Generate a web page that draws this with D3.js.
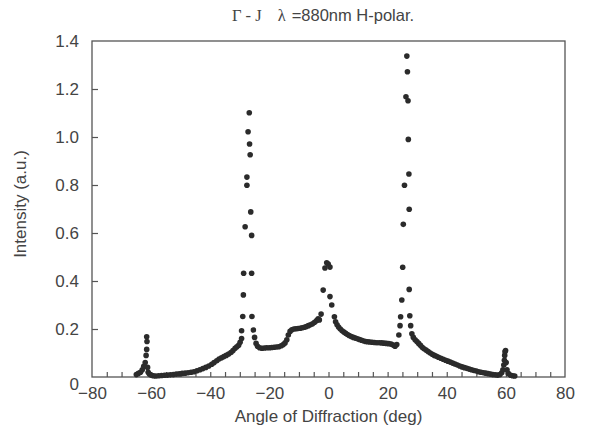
<!DOCTYPE html>
<html>
<head>
<meta charset="utf-8">
<script src="https://cdn.jsdelivr.net/npm/d3@7"></script>
<style>
	body { margin: 0; background: #fff; }
	text { font-family: "Liberation Sans", Arial, sans-serif; fill: #444; }
</style>
</head>
<body>
<script>
//////////////////////////////////////////////
// Data //////////////////////////////////////
//////////////////////////////////////////////
// angle of diffraction (deg)
var angles = [
	-65.0, -64.3, -63.6, -63.0, -62.5, -62.0, -61.7, -61.5, -61.4, -61.5, -61.2, -61.0, -60.6,
	-60.0, -59.3, -58.5, -57.5, -56.5, -55.5, -54.5, -53.5, -52.5, -51.5, -50.5, -49.5, -48.5,
	-47.5, -46.5, -45.5, -44.5, -43.5, -42.5, -41.5, -40.5, -39.5, -38.7, -37.8, -37.0, -36.2,
	-35.4, -34.6, -33.8, -33.0, -32.3, -31.6, -31.0, -30.4, -29.9, -29.4, -29.4, -29.0, -28.8,
	-28.7, -28.2, -27.6, -27.6, -27.2, -26.8, -26.7, -26.5, -26.3, -26.0, -26.0, -25.9, -25.4,
	-25.0, -24.5, -24.0, -23.3, -22.5, -21.7, -20.9, -20.0, -19.2, -18.4, -17.6, -16.8, -16.0,
	-15.3, -14.7, -14.1, -13.6, -13.0, -12.4, -11.7, -11.0, -10.3, -9.6, -8.9, -8.2, -7.5,
	-6.8, -6.1, -5.4, -4.7, -4.0, -3.5, -3.1, -2.5, -1.8, -1.2, -0.6, -0.1, 0.5,
	0.5, 1.1, 2.0, 2.4, 2.9, 3.4, 4.0, 4.6, 5.2, 5.8, 6.4, 7.0, 7.7,
	8.4, 9.1, 9.8, 10.5, 11.2, 11.9, 12.6, 13.3, 14.0, 14.8, 15.6, 16.4, 17.2,
	18.0, 18.8, 19.6, 20.4, 21.2, 21.9, 22.5, 23.1, 23.8, 24.2, 24.4, 24.8, 25.1,
	25.3, 25.7, 26.2, 26.5, 26.7, 26.9, 27.0, 27.2, 27.3, 27.3, 27.5, 27.8, 28.2,
	28.7, 29.3, 29.9, 30.5, 31.1, 31.7, 32.3, 33.0, 33.7, 34.4, 35.1, 35.8, 36.5,
	37.2, 38.0, 38.8, 39.6, 40.4, 41.2, 42.0, 42.8, 43.6, 44.4, 45.2, 46.0, 46.8,
	47.6, 48.4, 49.2, 50.0, 50.8, 51.6, 52.4, 53.2, 54.0, 54.8, 55.6, 56.4, 57.2,
	58.0, 58.6, 59.0, 59.3, 59.5, 59.6, 59.7, 59.9, 60.1, 60.4, 60.8, 61.5, 62.3,
	63.0
];

// intensity (a.u.)
var intensity = [
	0.010, 0.015, 0.020, 0.030, 0.045, 0.060, 0.090, 0.115, 0.148, 0.168, 0.040, 0.020, 0.012,
	0.008, 0.005, 0.004, 0.005, 0.006, 0.007, 0.008, 0.009, 0.010, 0.012, 0.013, 0.015, 0.016,
	0.018, 0.020, 0.022, 0.026, 0.030, 0.035, 0.040, 0.046, 0.053, 0.060, 0.068, 0.075, 0.080,
	0.085, 0.090, 0.096, 0.102, 0.110, 0.120, 0.126, 0.132, 0.145, 0.160, 0.193, 0.252, 0.342,
	0.432, 0.626, 0.799, 0.833, 1.022, 1.101, 0.971, 0.926, 0.688, 0.590, 0.432, 0.252, 0.196,
	0.165, 0.140, 0.128, 0.122, 0.120, 0.121, 0.122, 0.122, 0.123, 0.124, 0.125, 0.126, 0.130,
	0.135, 0.142, 0.155, 0.175, 0.190, 0.197, 0.200, 0.201, 0.202, 0.203, 0.205, 0.207, 0.210,
	0.214, 0.218, 0.222, 0.228, 0.235, 0.242, 0.238, 0.262, 0.362, 0.454, 0.476, 0.471, 0.458,
	0.335, 0.300, 0.251, 0.230, 0.218, 0.208, 0.200, 0.193, 0.187, 0.182, 0.177, 0.173, 0.169,
	0.165, 0.162, 0.159, 0.156, 0.153, 0.150, 0.148, 0.147, 0.146, 0.145, 0.144, 0.143, 0.143,
	0.142, 0.141, 0.140, 0.139, 0.137, 0.133, 0.128, 0.135, 0.175, 0.214, 0.251, 0.321, 0.457,
	0.636, 0.799, 1.168, 1.337, 1.272, 1.151, 0.990, 0.846, 0.699, 0.365, 0.255, 0.214, 0.180,
	0.165, 0.155, 0.148, 0.140, 0.132, 0.124, 0.118, 0.112, 0.106, 0.100, 0.095, 0.090, 0.086,
	0.082, 0.078, 0.074, 0.070, 0.066, 0.062, 0.058, 0.054, 0.050, 0.046, 0.042, 0.039, 0.036,
	0.033, 0.030, 0.027, 0.025, 0.022, 0.020, 0.018, 0.016, 0.014, 0.012, 0.010, 0.009, 0.008,
	0.010, 0.018, 0.030, 0.050, 0.070, 0.090, 0.105, 0.110, 0.060, 0.030, 0.015, 0.008, 0.005,
	0.004
];

// tick labels
var xTicks = [-80, -60, -40, -20, 0, 20, 40, 60, 80];
var yTicks = [0, 0.2, 0.4, 0.6, 0.8, 1.0, 1.2, 1.4];

var data = angles.map(function(a, i) { return {angle: a, value: intensity[i]}; });

//////////////////////////////////////////////
// Chart Config /////////////////////////////
//////////////////////////////////////////////
var margin = {top: 41, right: 24, bottom: 57, left: 92},
	width = 589 - margin.left - margin.right,
	height = 434 - margin.top - margin.bottom;

var xScale = d3.scaleLinear().domain([-80, 80]).range([0, width]);
var yScale = d3.scaleLinear().domain([0, 1.4]).range([height, 0]);

var svg = d3.select("body")
			.append("svg")
			.attr("width", 589)
			.attr("height", 434);

var artboard = svg.append("g")
				  .attr("transform", "translate(" + margin.left + "," + margin.top + ")");

//////////////////////////////////////////////
// Axes //////////////////////////////////////
//////////////////////////////////////////////
// frame round the plot
artboard.append("rect")
		.attr("width", width)
		.attr("height", height)
		.style("fill", "none")
		.style("stroke", "#555")
		.style("stroke-width", 1.3);

// ticks point inwards, minor every 5 deg
var xAxis = d3.axisBottom(xScale)
			  .tickValues(d3.range(-75, 80, 5))
			  .tickSizeInner(-5)
			  .tickSizeOuter(0)
			  .tickFormat("");
var xAxisEl = artboard.append("g")
					  .attr("transform", "translate(0," + height + ")")
					  .call(xAxis);

var xLabels = d3.axisBottom(xScale)
				.tickValues(xTicks)
				.tickSize(0)
				.tickPadding(10)
				.tickFormat(d3.format("d"));
var xLabelEl = artboard.append("g")
					   .attr("transform", "translate(0," + height + ")")
					   .call(xLabels);

var yAxis = d3.axisLeft(yScale)
			  .tickValues(yTicks.slice(1, -1))
			  .tickSizeInner(-6)
			  .tickSizeOuter(0)
			  .tickFormat("");
var yAxisEl = artboard.append("g").call(yAxis);

var yLabels = d3.axisLeft(yScale)
				.tickValues(yTicks)
				.tickSize(0)
				.tickPadding(13)
				.tickFormat(function(d) { return d === 0 ? "0" : d3.format(".1f")(d); });
var yLabelEl = artboard.append("g").call(yLabels);

[xAxisEl, yAxisEl, xLabelEl, yLabelEl].forEach(function(g) {
	g.select(".domain").remove();
	g.selectAll("line").style("stroke", "#555").style("stroke-width", 1.2);
	g.selectAll("text")
	 .style("font-size", "17px")
	 .style("font-family", "'Liberation Sans', Arial, sans-serif")
	 .style("fill", "#444");
});

// the "0" sits a bit under the axis in the original
yLabelEl.selectAll(".tick").filter(function(d) { return d === 0; })
		.select("text").attr("dy", "0.75em");

//////////////////////////////////////////////
// Points ////////////////////////////////////
//////////////////////////////////////////////
artboard.selectAll(".pt")
		.data(data)
		.enter()
		.append("circle")
		.attr("class", "pt")
		.attr("cx", function(d) { return xScale(d.angle); })
		.attr("cy", function(d) { return yScale(d.value); })
		.attr("r", 2.8)
		.style("fill", "#2b2b2b");

//////////////////////////////////////////////
// Titles ////////////////////////////////////
//////////////////////////////////////////////
svg.append("text")
   .attr("x", margin.left + width / 2)
   .attr("y", 422)
   .attr("text-anchor", "middle")
   .style("font-size", "17px")
   .text("Angle of Diffraction (deg)");

svg.append("text")
   .attr("transform", "translate(26," + (margin.top + height / 2 - 5) + ") rotate(-90)")
   .attr("text-anchor", "middle")
   .style("font-size", "17px")
   .text("Intensity (a.u.)");

var title = svg.append("text")
			   .attr("x", 323)
			   .attr("y", 21)
			   .attr("text-anchor", "middle")
			   .style("font-size", "16.5px");
title.append("tspan").style("font-family", "'Liberation Serif', serif").text("\u0393 - J");
title.append("tspan").attr("dx", 16).style("font-family", "'Liberation Serif', serif").text("\u03bb");
title.append("tspan").attr("dx", 6).text("=880nm H-polar.");
</script>
</body>
</html>
